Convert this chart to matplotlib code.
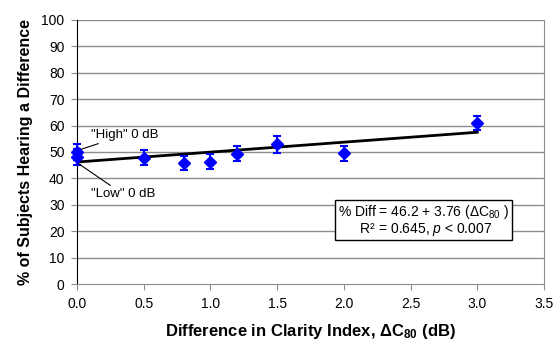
import matplotlib

matplotlib.use("Agg")

import matplotlib.pyplot as plt
import numpy as np

plt.rcParams["font.family"] = ["Liberation Sans", "DejaVu Sans"]
plt.rcParams["mathtext.fontset"] = "custom"
plt.rcParams["mathtext.rm"] = "Liberation Sans"
plt.rcParams["mathtext.it"] = "Liberation Sans:italic"
plt.rcParams["mathtext.bf"] = "Liberation Sans:bold"

delta_c80 = [0.0, 0.0, 0.5, 0.8, 1.0, 1.2, 1.5, 2.0, 3.0]
pct_diff = [50.0, 48.0, 47.8, 45.8, 46.3, 49.3, 53.0, 49.5, 61.0]
err = [3.0, 3.0, 2.8, 2.8, 2.8, 2.8, 3.2, 2.8, 2.8]

intercept = 46.2
slope = 3.76
fit_x = [0.0, 3.0]

x_ticks = [0.0, 0.5, 1.0, 1.5, 2.0, 2.5, 3.0, 3.5]
y_ticks = list(range(0, 101, 10))

fig = plt.figure(figsize=(5.58, 3.5), dpi=100)
ax = fig.add_axes([77 / 558, 1 - 284 / 350, 467 / 558, 264 / 350])

for y in y_ticks[1:]:
    ax.axhline(y, color="#8c8c8c", lw=1.0, zorder=0)

fit_y = [intercept + slope * v for v in fit_x]
ax.plot(fit_x, fit_y, color="black", lw=2.0, zorder=2)

ax.errorbar(delta_c80, pct_diff, yerr=err, fmt="D", color="#0000ff",
            ms=6.5, capsize=3, elinewidth=1.5, capthick=1.5, zorder=3,
            clip_on=False)

ax.annotate('"High" 0 dB', xy=(0.0, 50.5), xytext=(0.105, 56.5),
            fontsize=9.5, ha="left", va="center",
            arrowprops=dict(arrowstyle="-", color="black", lw=0.8,
                            shrinkA=0, shrinkB=0))
ax.annotate('"Low" 0 dB', xy=(0.0, 46.0), xytext=(0.105, 34.0),
            fontsize=9.5, ha="left", va="center",
            arrowprops=dict(arrowstyle="-", color="black", lw=0.8,
                            shrinkA=0, shrinkB=0))

ax.text(2.6, 24.2,
        "% Diff = 46.2 + 3.76 ($\\Delta$C$_{80}$ )\n R\u00b2 = 0.645, $\\it{p}$ < 0.007",
        fontsize=10, ha="center", va="center", multialignment="center",
        linespacing=1.0,
        bbox=dict(boxstyle="square,pad=0.2", fc="white", ec="black", lw=1.0),
        zorder=4)

ax.set_xlim(0, 3.5)
ax.set_ylim(0, 100)
ax.set_xticks(x_ticks)
ax.set_xticklabels([f"{v:.1f}" for v in x_ticks])
ax.set_yticks(y_ticks)
ax.tick_params(axis="both", labelsize=10, direction="out", length=4,
               color="#8c8c8c", pad=5)

ax.spines["left"].set_color("black")
ax.spines["bottom"].set_color("#8c8c8c")
ax.spines["right"].set_color("#8c8c8c")
ax.spines["top"].set_visible(False)

ax.set_xlabel("Difference in Clarity Index, $\\mathbf{\\Delta C_{80}}$ (dB)",
              fontsize=12, fontweight="bold", labelpad=8)
ax.set_ylabel("% of Subjects Hearing a Difference", fontsize=11.5,
              fontweight="bold", labelpad=6)

fig.savefig("out.png", dpi=100)
